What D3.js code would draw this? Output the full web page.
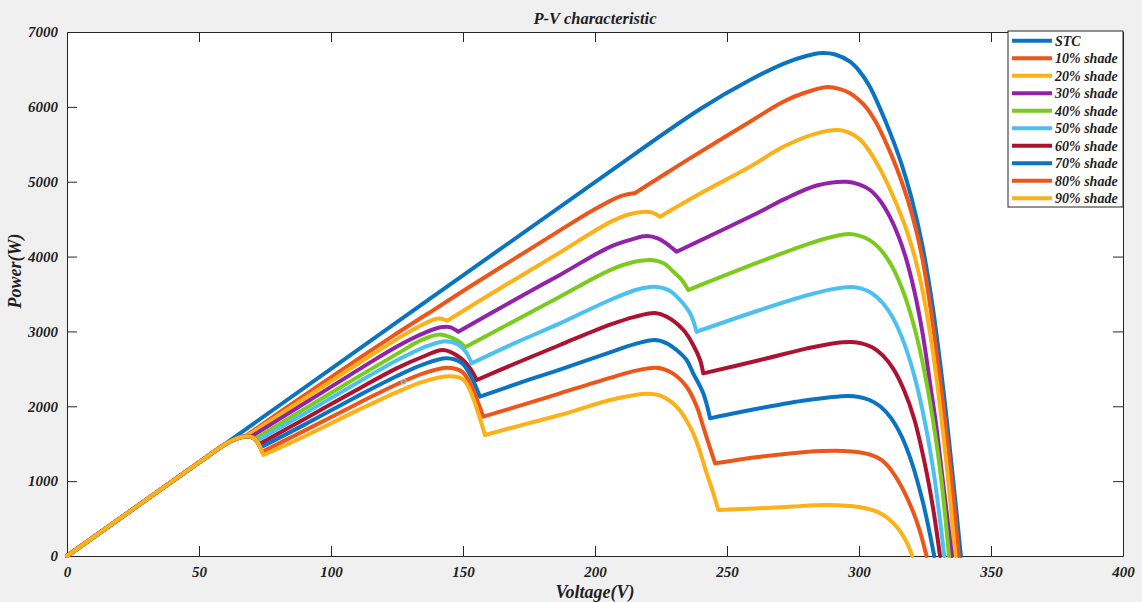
<!DOCTYPE html>
<html><head><meta charset="utf-8">
<script src="https://cdn.jsdelivr.net/npm/d3@7"></script>
<style>
html,body{margin:0;padding:0;background:#f0f0f0;}
svg{display:block;}
text{font-family:"Liberation Serif","Times New Roman",serif;font-weight:bold;font-style:italic;fill:#1e1e1e;}
.tick text{font-size:15px;}
</style></head><body>
<svg id="chart" width="1142" height="602"></svg>
<script>
// ---------- data ----------
const titleText = "P-V characteristic";
const xLabel = "Voltage(V)";
const yLabel = "Power(W)";
const seriesNames = ["STC","10% shade","20% shade","30% shade","40% shade","50% shade","60% shade","70% shade","80% shade","90% shade"];
const seriesColors = ["#0b74c2","#ee5519","#fbb117","#9322ab","#7bcb1e","#4cc0f0","#ad1230","#0b74c2","#ee5519","#fbb117"];
const xTicks = [0,50,100,150,200,250,300,350,400];
const yTicks = [0,1000,2000,3000,4000,5000,6000,7000];

// each series: pieces of [voltage, power] points (pieces meet at the bypass-diode corners)
const stc = [
  [[0,0],[100,2500],[200,4995],[240,5975],[258.7,6358],[272,6585],[280,6680],[286,6720],[291,6700],[296.6,6603],[300,6484],[304,6276],[308,5976],[312,5636],[316,5248],[320,4768],[324,4148],[328,3308],[332,2208],[335,1242],[338.6,0]]
];
const shade10 = [
  [[0,0],[50,1250],[60,1495],[64,1565],[67.3,1594]],
  [[67.3,1594],[90,2150],[111,2650],[125,2975],[136.9,3242]],
  [[136.9,3242],[150,3540],[164,3850],[186.7,4350],[199.4,4622],[209.5,4805],[215.2,4850]],
  [[215.2,4850],[224.6,5060],[234.7,5285],[258.7,5801],[271.3,6069],[280,6195],[288,6265],[292.5,6240],[296.6,6181],[300,6090],[302.9,5985],[306,5820],[309.2,5600],[312.4,5345],[315.5,5067],[318.7,4730],[321.8,4330],[324,3975],[326.5,3450],[328.6,2930],[330.7,2351],[332.6,1800],[334.5,1200],[336,690],[337.8,0]]
];
const shade20 = [
  [[0,0],[50,1250],[60,1495],[64,1565],[66.5,1592],[67.8,1596]],
  [[67.8,1596],[90,2105],[110,2565],[125,2900],[133,3060],[140.6,3172],[144,3143]],
  [[144,3143],[160,3490],[176.6,3840],[186.7,4055],[205.7,4460],[213,4565],[219,4598],[222,4585],[224.6,4532]],
  [[224.6,4532],[240,4845],[258.7,5200],[271.3,5467],[284,5646],[292,5690],[296,5660],[300.4,5565],[303.5,5430],[306.7,5250],[310,5030],[313,4800],[315.5,4590],[318,4355],[321,4010],[324,3560],[327,2960],[329.4,2360],[333,1280],[336.5,0]]
];
const shade30 = [
  [[0,0],[50,1250],[60,1495],[64,1565],[66.5,1592],[68.5,1598],[69.5,1590]],
  [[69.5,1590],[90,2040],[110,2480],[125,2800],[135,2975],[141.5,3055],[145,3058],[148.2,2996]],
  [[148.2,2996],[170,3430],[186.7,3755],[205.7,4130],[214,4230],[219.5,4275],[224,4240],[227.2,4170],[230.9,4065]],
  [[230.9,4065],[262.5,4599],[271.3,4760],[284,4950],[295.3,5000],[300,4965],[304.2,4889],[308,4745],[311.7,4530],[315,4268],[318,3953],[321,3533],[324,2993],[326.9,2311],[329,1805],[332,935],[335.2,0]]
];
const shade40 = [
  [[0,0],[50,1250],[60,1495],[64,1565],[66.5,1592],[68.5,1598],[70.5,1580],[71,1563]],
  [[71,1563],[90,1965],[110,2390],[125,2700],[134,2880],[141,2960],[146.3,2908],[149,2850],[150.8,2788]],
  [[150.8,2788],[170,3150],[186.7,3464],[205.7,3820],[215,3930],[221.5,3954],[226,3910],[229.7,3798],[232.9,3687],[235.3,3553]],
  [[235.3,3553],[262.5,3931],[280,4160],[290,4265],[296,4300],[300,4280],[304,4220],[308,4100],[312,3900],[316,3600],[320,3180],[324,2600],[328,1820],[331,1070],[334.1,0]]
];
const shade50 = [
  [[0,0],[50,1250],[60,1495],[64,1565],[66.5,1592],[68.5,1598],[70.5,1580],[71.8,1537]],
  [[71.8,1537],[90,1905],[110,2315],[125,2615],[135,2785],[143,2870],[148,2830],[151,2730],[153.3,2574]],
  [[153.3,2574],[170,2850],[186.7,3108],[205.7,3420],[216,3560],[222.7,3597],[228,3550],[232.2,3420],[236,3242],[238.5,2996]],
  [[238.5,2996],[262.5,3286],[280,3480],[290,3565],[297.3,3593],[301,3571],[305,3507],[309,3379],[313,3171],[317,2851],[321,2403],[325,1783],[328.5,1065],[332.3,0]]
];
const shade60 = [
  [[0,0],[50,1250],[60,1495],[64,1565],[66.5,1592],[68.5,1598],[70.5,1580],[72,1530],[72.6,1490]],
  [[72.6,1490],[90,1830],[110,2225],[125,2510],[135,2665],[142.5,2752],[148.9,2650],[152.7,2507],[155.2,2351]],
  [[155.2,2351],[170,2575],[186.7,2819],[205.7,3090],[215,3195],[222.7,3245],[227.2,3197],[233.5,3019],[237.2,2819],[239.8,2618],[241,2440]],
  [[241,2440],[262.5,2618],[280,2770],[290,2840],[297.3,2859],[301,2840],[305,2788],[309,2680],[313,2500],[317,2220],[321,1820],[325,1220],[328,650],[330.7,0]]
];
const shade70 = [
  [[0,0],[50,1250],[60,1495],[64,1565],[66.5,1592],[68.5,1598],[70.5,1580],[72,1530],[73.2,1450]],
  [[73.2,1450],[90,1755],[110,2135],[125,2405],[135,2560],[143.8,2641],[149.5,2580],[153,2400],[156.4,2128]],
  [[156.4,2128],[175,2355],[186.7,2490],[205.7,2721],[215,2830],[222.7,2885],[227.2,2841],[230.9,2752],[234.7,2618],[237.2,2440],[241,2173],[243.6,1839]],
  [[243.6,1839],[262.5,1973],[280,2080],[295.8,2137],[300,2124],[304,2084],[308,2000],[312,1848],[316,1608],[320,1248],[324,748],[326.3,390],[328.5,0]]
];
const shade80 = [
  [[0,0],[50,1250],[60,1495],[64,1565],[66.5,1592],[68.5,1598],[70.5,1580],[72,1530],[73.2,1450],[73.9,1392]],
  [[73.9,1392],[90,1675],[110,2035],[125,2295],[135,2440],[144,2515],[149.5,2465],[152.7,2307],[155.8,2040],[157.7,1861]],
  [[157.7,1861],[175,2045],[186.7,2173],[205.7,2380],[216,2480],[223.4,2515],[229,2450],[234.7,2262],[238.5,2000],[241,1727],[243.5,1450],[245.5,1238]],
  [[245.5,1238],[262.5,1326],[280,1390],[294,1403],[300,1385],[305,1345],[308.5,1285],[311.5,1180],[314.5,1025],[317.5,830],[320.5,590],[323,340],[325.6,0]]
];
const shade90 = [
  [[0,0],[50,1250],[60,1495],[64,1565],[66.5,1592],[68.5,1598],[70.5,1580],[72,1530],[73.2,1450],[74.4,1349]],
  [[74.4,1349],[90,1600],[110,1945],[125,2190],[135,2330],[145,2400],[150,2360],[152.7,2210],[155.8,1906],[158.3,1616]],
  [[158.3,1616],[175,1775],[186.7,1883],[205.7,2084],[214,2145],[220,2168],[225,2140],[230.9,1995],[237.2,1639],[242.3,1105],[244.8,838],[246.7,614]],
  [[246.7,614],[262.5,637],[275,662],[288,680],[295,672],[300,655],[304,625],[307,590],[310,530],[313,440],[315.5,335],[318,190],[320.2,0]]
];
const allSeries = [stc, shade10, shade20, shade30, shade40, shade50, shade60, shade70, shade80, shade90];
const datatip = [127.5, 2330];

// ---------- layout ----------
const svg = d3.select("#chart");
const W = 1142, H = 602;
const plot = {left:67, right:1123, top:32, bottom:556};
svg.append("rect").attr("width",W).attr("height",H).attr("fill","#f0f0f0");
svg.append("rect").attr("x",plot.left).attr("y",plot.top)
  .attr("width",plot.right-plot.left).attr("height",plot.bottom-plot.top).attr("fill","#ffffff");

const x = d3.scaleLinear().domain([0,400]).range([plot.left, plot.right]);
const y = d3.scaleLinear().domain([0,7000]).range([plot.bottom, plot.top]);

function styleAxis(g){
  g.attr("font-family",null).attr("font-size",null);
  g.selectAll("path,line").attr("stroke","#262626").attr("stroke-width",1);
}
svg.append("g").attr("transform",`translate(0,${plot.bottom})`)
  .call(d3.axisBottom(x).tickValues(xTicks).tickFormat(d3.format("d")).tickSize(-10).tickSizeOuter(0).tickPadding(10)).call(styleAxis);
svg.append("g").attr("transform",`translate(0,${plot.top})`)
  .call(d3.axisTop(x).tickValues(xTicks).tickSize(-10).tickSizeOuter(0).tickFormat(()=>"")).call(styleAxis);
svg.append("g").attr("transform",`translate(${plot.left},0)`)
  .call(d3.axisLeft(y).tickValues(yTicks).tickFormat(d3.format("d")).tickSize(-10).tickSizeOuter(0).tickPadding(9)).call(styleAxis);
svg.append("g").attr("transform",`translate(${plot.right},0)`)
  .call(d3.axisRight(y).tickValues(yTicks).tickSize(-10).tickSizeOuter(0).tickFormat(()=>"")).call(styleAxis);

// ---------- lines ----------
const lineGen = d3.line().x(d=>x(d[0])).y(d=>y(d[1])).curve(d3.curveCatmullRom.alpha(0.5));
allSeries.forEach((pieces,i)=>{
  svg.append("path")
    .attr("d", pieces.map(p=>lineGen(p)).join(""))
    .attr("fill","none").attr("stroke",seriesColors[i]).attr("stroke-width",4)
    .attr("stroke-linejoin","round").attr("stroke-linecap","round");
});
svg.append("circle").attr("cx",x(datatip[0])).attr("cy",y(datatip[1])).attr("r",2.6)
  .attr("fill","#8c8c8c").attr("stroke","#d0d0d0").attr("stroke-width",0.8);

// ---------- texts ----------
svg.append("text").attr("x",(plot.left+plot.right)/2).attr("y",24).attr("text-anchor","middle")
  .attr("font-size",16.5).text(titleText);
svg.append("text").attr("x",(plot.left+plot.right)/2).attr("y",598).attr("text-anchor","middle")
  .attr("font-size",18).text(xLabel);
svg.append("text").attr("transform","translate(21,271) rotate(-90)").attr("text-anchor","middle")
  .attr("font-size",18).text(yLabel);

// ---------- legend ----------
const lg = svg.append("g");
lg.append("rect").attr("x",1008).attr("y",31).attr("width",115).attr("height",176)
  .attr("fill","#ffffff").attr("stroke","#262626").attr("stroke-width",1);
seriesNames.forEach((name,i)=>{
  const yy = 40.7 + i*17.5;
  lg.append("line").attr("x1",1012).attr("x2",1052).attr("y1",yy).attr("y2",yy)
    .attr("stroke",seriesColors[i]).attr("stroke-width",4);
  lg.append("text").attr("x",1055).attr("y",yy).attr("dy","0.35em").attr("font-size",14).text(name);
});
</script>
</body></html>
